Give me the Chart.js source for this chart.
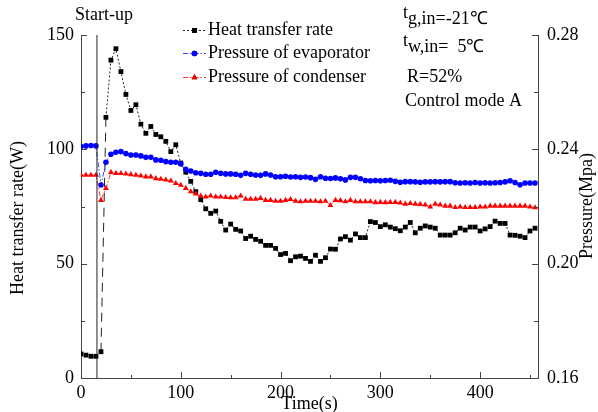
<!DOCTYPE html>
<html>
<head>
<meta charset="utf-8">
<script src="https://cdn.jsdelivr.net/npm/chart.js@4"></script>
<style>
  html, body { margin: 0; padding: 0; background: #fff; }
</style>
</head>
<body>
<canvas id="chart" width="598" height="412"></canvas>
<script>
// time axis (s)
var timeS = [0,5,10,15,20,25,30,35,40,45,50,55,60,65,70,75,80,85,90,95,
  100,105,110,115,120,125,130,135,140,145,150,155,160,165,170,175,180,185,190,195,
  200,205,210,215,220,225,230,235,240,245,250,255,260,265,270,275,280,285,290,295,
  300,305,310,315,320,325,330,335,340,345,350,355,360,365,370,375,380,385,390,395,
  400,405,410,415,420,425,430,435,440,445,450,455];

// heat transfer rate (W)
var heatRate = [10.5,10,9.5,9.5,11.5,114,139,144,134,124,
  117,119.5,111,107,110,106.5,105.5,103.5,99,102,
  94,90,86,81.5,78,74,72,73,68.5,64.7,
  67.3,65,64.3,61,62,60.6,59.8,58,58,56.7,
  54,54.5,51.3,53,53.3,52.3,51,53.7,51,52.6,
  56.4,56.3,60.8,61.8,60.3,63,61.4,61.4,68.4,68,
  66.2,67,66,65.3,64.4,66,68,63.5,65.5,66.5,
  66,65.5,62.5,62.5,62.5,63.5,65.5,64.7,66,66,
  64.3,65.2,66.2,68.6,67.6,67.6,62.5,62.4,62,61.4,
  64.3,65.5];

// pressure of evaporator (MPa)
var pEvap = [0.2410,0.2412,0.2413,0.2412,0.2275,0.2355,0.2383,0.2390,0.2392,0.2385,
  0.2380,0.2380,0.2377,0.2372,0.2372,0.2363,0.2362,0.2357,0.2355,0.2355,
  0.2349,0.2330,0.2324,0.2318,0.2316,0.2313,0.2313,0.2320,0.2316,0.2314,
  0.2314,0.2313,0.2309,0.2316,0.2313,0.2310,0.2309,0.2314,0.2310,0.2304,
  0.2304,0.2306,0.2303,0.2304,0.2302,0.2303,0.2301,0.2295,0.2304,0.2299,
  0.2298,0.2300,0.2297,0.2293,0.2302,0.2302,0.2297,0.2291,0.2290,0.2291,
  0.2290,0.2291,0.2292,0.2288,0.2285,0.2287,0.2287,0.2286,0.2285,0.2286,
  0.2286,0.2287,0.2286,0.2287,0.2287,0.2283,0.2282,0.2283,0.2282,0.2284,
  0.2282,0.2283,0.2282,0.2283,0.2284,0.2286,0.2290,0.2284,0.2276,0.2282,
  0.2282,0.2282];

// pressure of condenser (MPa)
var pCond = [0.2310,0.2310,0.2310,0.2310,0.2222,0.2264,0.2320,0.2316,0.2316,0.2314,
  0.2312,0.2310,0.2307,0.2304,0.2304,0.2298,0.2296,0.2293,0.2290,0.2281,
  0.2275,0.2264,0.2252,0.2244,0.2237,0.2234,0.2237,0.2234,0.2234,0.2232,
  0.2231,0.2231,0.2237,0.2226,0.2226,0.2226,0.2229,0.2222,0.2222,0.2219,
  0.2219,0.2222,0.2225,0.2219,0.2217,0.2219,0.2219,0.2219,0.2217,0.2219,
  0.2204,0.2222,0.2221,0.2217,0.2222,0.2217,0.2217,0.2217,0.2217,0.2214,
  0.2215,0.2214,0.2215,0.2215,0.2213,0.2209,0.2211,0.2209,0.2208,0.2206,
  0.2199,0.2209,0.2206,0.2202,0.2202,0.2197,0.2199,0.2197,0.2197,0.2197,
  0.2199,0.2199,0.2202,0.2202,0.2202,0.2202,0.2202,0.2202,0.2202,0.2202,
  0.2199,0.2196];

var startupTime = 16;
var seriesNames = ['Heat transfer rate', 'Pressure of evaporator', 'Pressure of condenser'];

// ticks
var xTicks = [0, 100, 200, 300, 400];
var xMinor = [50, 150, 250, 350, 450];
var leftTicks = [0, 50, 100, 150];
var leftMinor = [25, 75, 125];
var rightTicks = [0.16, 0.20, 0.24, 0.28];
var rightMinor = [0.18, 0.22, 0.26];

var FONT = '"Liberation Serif", "Times New Roman", serif';
var FS = 18;

function pts(ys) {
  return timeS.map(function (t, i) { return { x: t, y: ys[i] }; });
}

function setTicks(list) {
  return function (scale) {
    scale.ticks = list.map(function (v) { return { value: v }; });
  };
}

var styles = [
  { color: '#000', line: '#222', style: 'rect', r: 3.4, dash: [2, 2] },
  { color: '#0000ff', line: '#3344ff', style: 'circle', r: 2.8, dash: [5, 2, 1.5, 2] },
  { color: '#ff0000', line: '#ff3030', style: 'triangle', r: 3.4, dash: [5, 2, 1.5, 2] }
];

var extras = {
  id: 'extras',
  afterDraw: function (chart) {
    var ctx = chart.ctx;
    var a = chart.chartArea;
    var sx = chart.scales.x, sl = chart.scales.y, sr = chart.scales.y1;
    ctx.save();
    ctx.strokeStyle = '#444';
    ctx.lineWidth = 1;
    ctx.beginPath();
    // inward tick marks
    function xt(list, len) {
      list.forEach(function (v) {
        var p = Math.round(sx.getPixelForValue(v)) + 0.5;
        ctx.moveTo(p, a.bottom); ctx.lineTo(p, a.bottom - len);
      });
    }
    function lt(list, len) {
      list.forEach(function (v) {
        var p = Math.round(sl.getPixelForValue(v)) + 0.5;
        ctx.moveTo(a.left, p); ctx.lineTo(a.left + len, p);
      });
    }
    function rt(list, len) {
      list.forEach(function (v) {
        var p = Math.round(sr.getPixelForValue(v)) + 0.5;
        ctx.moveTo(a.right, p); ctx.lineTo(a.right - len, p);
      });
    }
    xt(xTicks, 6); xt(xMinor, 3);
    lt(leftTicks, 6); lt(leftMinor, 4);
    rt(rightTicks, 6); rt(rightMinor, 4);
    ctx.stroke();

    ctx.fillStyle = '#000';
    ctx.font = FS + 'px ' + FONT;
    ctx.textBaseline = 'middle';

    // axis titles
    ctx.textAlign = 'center';
    ctx.fillText('Time(s)', (a.left + a.right) / 2, 404);
    ctx.save();
    ctx.translate(18, 218);
    ctx.rotate(-Math.PI / 2);
    ctx.fillText('Heat transfer rate(W)', 0, 0);
    ctx.restore();
    ctx.save();
    ctx.translate(587, 206);
    ctx.rotate(-Math.PI / 2);
    ctx.fillText('Pressure(Mpa)', 0, 0);
    ctx.restore();

    ctx.fillText('Start-up', 104, 15);

    // legend
    ctx.textAlign = 'left';
    var rows = [30, 53, 77];
    styles.forEach(function (s, i) {
      var y = rows[i] + 0.5;
      ctx.save();
      ctx.strokeStyle = s.line;
      ctx.setLineDash(s.dash);
      ctx.beginPath();
      ctx.moveTo(183, y); ctx.lineTo(206, y);
      ctx.stroke();
      ctx.restore();
      Chart.helpers.drawPoint(ctx, {
        pointStyle: s.style, radius: s.r, borderWidth: 0, rotation: 0
      }, 194.5, y);
      ctx.fillStyle = s.color;
      ctx.fill();
      ctx.fillStyle = '#000';
      ctx.fillText(seriesNames[i], 208, rows[i]);
    });

    // conditions
    function sub(t, rest, x, y) {
      ctx.fillText(t, x, y - 6);
      ctx.fillText(rest, x + ctx.measureText(t).width, y);
    }
    sub('t', 'g,in=-21\u2103', 403, 19);
    sub('t', 'w,in=  5\u2103', 403, 47);
    ctx.fillText('R=52%', 407, 77);
    ctx.fillText('Control mode A', 405, 101);
    ctx.restore();
  }
};

new Chart(document.getElementById('chart'), {
  type: 'line',
  data: {
    datasets: [
      {
        label: 'start-up',
        data: [{ x: startupTime, y: 0 }, { x: startupTime, y: 150 }],
        yAxisID: 'y',
        borderColor: '#222',
        borderWidth: 1,
        pointRadius: 0
      },
      {
        label: seriesNames[2],
        data: pts(pCond),
        yAxisID: 'y1',
        borderColor: styles[2].line,
        backgroundColor: styles[2].color,
        borderWidth: 1,
        borderDash: styles[2].dash,
        pointStyle: 'triangle',
        pointRadius: styles[2].r,
        pointBorderWidth: 0
      },
      {
        label: seriesNames[1],
        data: pts(pEvap),
        yAxisID: 'y1',
        borderColor: styles[1].line,
        backgroundColor: styles[1].color,
        borderWidth: 1,
        borderDash: styles[1].dash,
        pointStyle: 'circle',
        pointRadius: styles[1].r,
        pointBorderWidth: 0
      },
      {
        label: seriesNames[0],
        data: pts(heatRate),
        yAxisID: 'y',
        borderColor: styles[0].line,
        backgroundColor: styles[0].color,
        borderWidth: 1,
        borderDash: styles[0].dash,
        segment: {
          borderDash: function (c) { return c.p0DataIndex === 4 ? [9, 6] : undefined; }
        },
        pointStyle: 'rect',
        pointRadius: styles[0].r,
        pointBorderWidth: 0
      }
    ]
  },
  options: {
    responsive: false,
    animation: false,
    devicePixelRatio: 1,
    layout: { padding: { top: 35, left: 0, right: 0, bottom: 0 } },
    plugins: {
      legend: { display: false },
      tooltip: { enabled: false }
    },
    elements: { line: { tension: 0 } },
    scales: {
      x: {
        type: 'linear',
        min: 0,
        max: 458,
        afterBuildTicks: setTicks(xTicks),
        afterFit: function (s) { s.height = 34; },
        grid: { display: false, drawTicks: false },
        border: { display: true, color: '#444', width: 1 },
        ticks: { color: '#000', padding: 4, font: { family: FONT, size: FS }, maxRotation: 0 }
      },
      y: {
        position: 'left',
        min: 0,
        max: 150,
        afterBuildTicks: setTicks(leftTicks),
        afterFit: function (s) { s.width = 81; },
        grid: { display: false, drawTicks: false },
        border: { display: true, color: '#444', width: 1 },
        ticks: { color: '#000', padding: 7, font: { family: FONT, size: FS } }
      },
      y1: {
        position: 'right',
        min: 0.16,
        max: 0.28,
        afterBuildTicks: setTicks(rightTicks),
        afterFit: function (s) { s.width = 60; },
        grid: { display: false, drawTicks: false },
        border: { display: true, color: '#444', width: 1 },
        ticks: {
          color: '#000', padding: 9, font: { family: FONT, size: FS },
          callback: function (v) { return v.toFixed(2); }
        }
      }
    }
  },
  plugins: [extras]
});
</script>
</body>
</html>
